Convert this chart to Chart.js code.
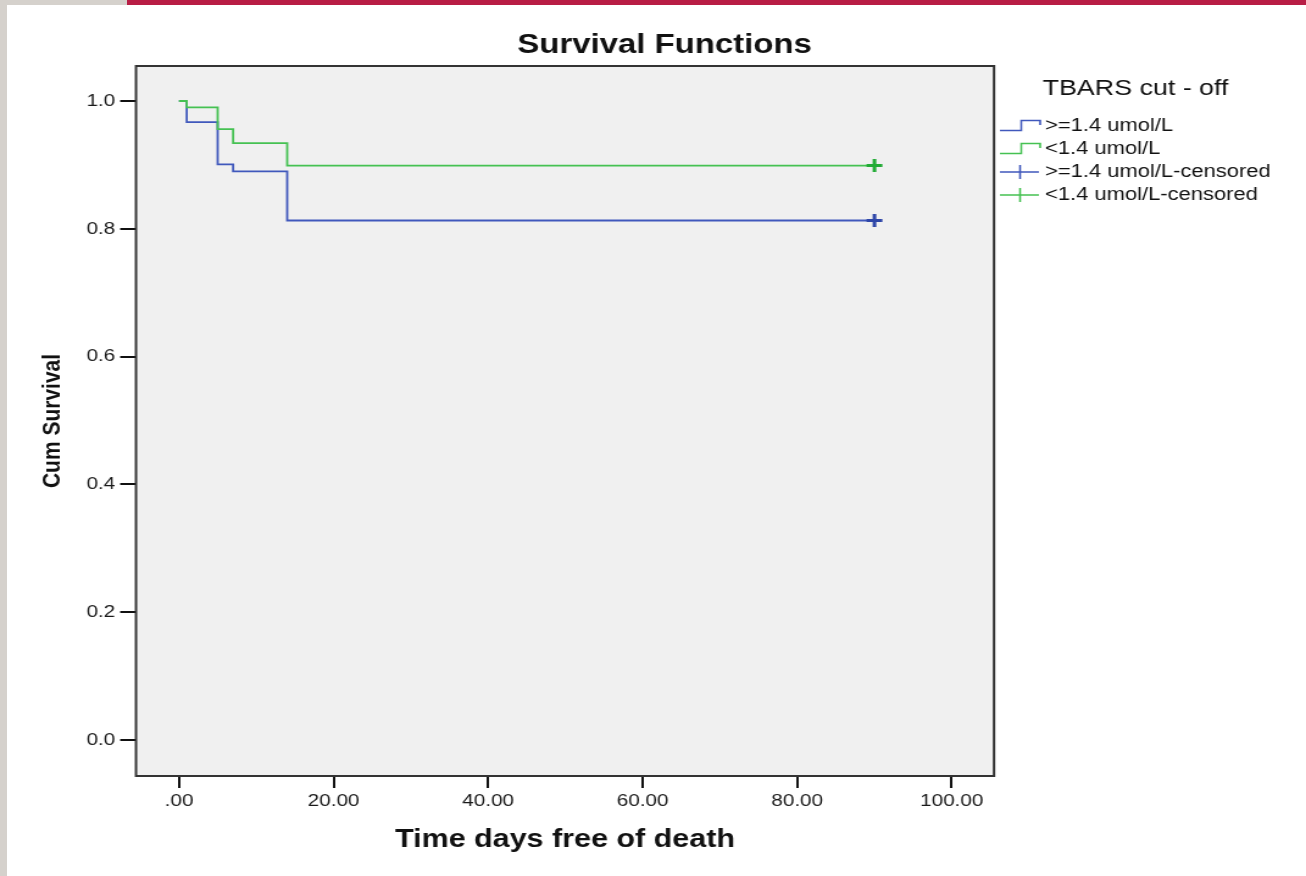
<!DOCTYPE html>
<html>
<head>
<meta charset="utf-8">
<title>Survival Functions</title>
<script src="https://cdn.jsdelivr.net/npm/chart.js@4.4.1/dist/chart.umd.min.js"></script>
<style>
  html, body { margin: 0; padding: 0; background: #fff; overflow: hidden; }
  body { width: 1306px; height: 876px; position: relative; }
  /* the source picture is stretched sideways, so the chart is drawn narrow and widened */
  #wrap { position: absolute; left: 0; top: 0; width: 1071px; height: 876px;
          transform: scaleX(1.21942); transform-origin: 0 0; }
  .strip { position: absolute; z-index: 2; }
</style>
</head>
<body>
<div class="strip" style="left:0;top:0;width:7px;height:876px;background:#d5d1cc;"></div>
<div class="strip" style="left:0;top:0;width:127px;height:5px;background:#d5d1cc;"></div>
<div class="strip" style="left:127px;top:0;width:1179px;height:5px;background:#b81d45;"></div>
<div id="wrap"><canvas id="survCanvas" width="1071" height="876"></canvas></div>
<script>
// Kaplan-Meier curves
const highTime = [0, 1, 5, 7, 14, 90];
const highSurv = [1.0, 0.967, 0.901, 0.890, 0.813, 0.813];
const lowTime = [0, 1, 5, 7, 14, 90];
const lowSurv = [1.0, 0.990, 0.956, 0.934, 0.899, 0.899];
const censorTime = [90];
const highCensored = [0.813];
const lowCensored = [0.899];

const xTicks = [0, 20, 40, 60, 80, 100];
const yTicks = [0.0, 0.2, 0.4, 0.6, 0.8, 1.0];

const groupLabels = ['>=1.4 umol/L', '<1.4 umol/L'];
const legendTitle = 'TBARS cut - off';
const chartTitle = 'Survival Functions';

const lineColors = ['#4058bc', '#45c152'];
const markColors = ['#2e46a8', '#22ab35'];

const FONT = "'Liberation Sans', Arial, sans-serif";
Chart.defaults.font.family = FONT;
Chart.defaults.color = '#222';

const pts = (xs, ys) => xs.map((x, i) => ({ x, y: ys[i] }));

const frame = {
  id: 'frame',
  beforeDraw(chart) {
    const { ctx, chartArea: a } = chart;
    ctx.save();
    ctx.fillStyle = '#f0f0f0';
    ctx.fillRect(a.left, a.top, a.right - a.left, a.bottom - a.top);
    ctx.restore();
  },
  beforeDatasetsDraw(chart) {
    const { ctx, chartArea: a } = chart;
    ctx.save();
    ctx.strokeStyle = '#333';
    ctx.lineWidth = 2;
    ctx.strokeRect(a.left, a.top, a.right - a.left, a.bottom - a.top);
    ctx.restore();
  },
  afterDraw(chart) {
    const { ctx } = chart;
    ctx.save();
    // title
    ctx.fillStyle = '#111';
    ctx.font = `bold 27px ${FONT}`;
    ctx.textAlign = 'center';
    ctx.textBaseline = 'alphabetic';
    ctx.fillText(chartTitle, 545, 53);

    // legend
    ctx.textAlign = 'left';
    ctx.textBaseline = 'middle';
    ctx.font = `22px ${FONT}`;
    ctx.fillText(legendTitle, 855, 89);

    ctx.font = `18px ${FONT}`;
    const x0 = 820, xm = 837.5, x1 = 853, tx = 857;
    const rows = [
      { label: groupLabels[0], color: lineColors[0], kind: 'step' },
      { label: groupLabels[1], color: lineColors[1], kind: 'step' },
      { label: groupLabels[0] + '-censored', color: lineColors[0], kind: 'cross' },
      { label: groupLabels[1] + '-censored', color: lineColors[1], kind: 'cross' },
    ];
    rows.forEach((r, i) => {
      const cy = 126 + i * 23;
      ctx.strokeStyle = r.color;
      ctx.lineWidth = 1.6;
      ctx.beginPath();
      if (r.kind === 'step') {
        ctx.moveTo(x0, cy + 4.5);
        ctx.lineTo(xm, cy + 4.5);
        ctx.lineTo(xm, cy - 5.5);
        ctx.lineTo(x1, cy - 5.5);
        ctx.lineTo(x1, cy - 1);
      } else {
        ctx.moveTo(x0, cy);
        ctx.lineTo(x1 - 1, cy);
        ctx.moveTo(xm - 1, cy - 7);
        ctx.lineTo(xm - 1, cy + 7);
      }
      ctx.stroke();
      ctx.fillStyle = '#111';
      ctx.fillText(r.label, tx, cy);
    });
    ctx.restore();
  }
};

new Chart(document.getElementById('survCanvas'), {
  type: 'scatter',
  data: {
    datasets: [
      {
        label: groupLabels[0],
        type: 'line',
        data: pts(highTime, highSurv),
        stepped: 'before',
        borderColor: lineColors[0],
        borderWidth: 1.8,
        pointRadius: 0,
        fill: false,
        order: 2,
      },
      {
        label: groupLabels[1],
        type: 'line',
        data: pts(lowTime, lowSurv),
        stepped: 'before',
        borderColor: lineColors[1],
        borderWidth: 1.8,
        pointRadius: 0,
        fill: false,
        order: 1,
      },
      {
        label: groupLabels[0] + '-censored',
        data: pts(censorTime, highCensored),
        pointStyle: 'cross',
        pointRadius: 6.5,
        borderColor: markColors[0],
        borderWidth: 3,
        order: 0,
      },
      {
        label: groupLabels[1] + '-censored',
        data: pts(censorTime, lowCensored),
        pointStyle: 'cross',
        pointRadius: 6.5,
        borderColor: markColors[1],
        borderWidth: 3,
        order: 0,
      },
    ]
  },
  options: {
    responsive: false,
    animation: false,
    events: [],
    layout: { padding: { left: 0, right: 255.85, top: 66, bottom: 0 } },
    plugins: {
      legend: { display: false },
      title: { display: false },
      tooltip: { enabled: false },
    },
    scales: {
      x: {
        type: 'linear',
        min: -5.564,
        max: 105.47,
        afterBuildTicks: s => { s.ticks = xTicks.map(v => ({ value: v })); },
        afterFit: s => { s.height = 100; },
        border: { display: false },
        grid: { drawOnChartArea: false, drawTicks: true, tickLength: 12, color: '#111', lineWidth: 2 },
        ticks: {
          padding: 3,
          color: '#1a1a1a',
          font: { size: 17 },
          maxRotation: 0,
          callback: v => v === 0 ? '.00' : v.toFixed(2),
        },
        title: {
          display: true,
          text: 'Time days free of death',
          color: '#111',
          font: { size: 25, weight: 'bold' },
          padding: { top: 0, bottom: 21 },
        },
      },
      y: {
        type: 'linear',
        min: -0.0563,
        max: 1.0548,
        afterBuildTicks: s => { s.ticks = yTicks.map(v => ({ value: v })); },
        afterFit: s => { s.width = 111.53; },
        border: { display: false },
        grid: { drawOnChartArea: false, drawTicks: true, tickLength: 13, color: '#111', lineWidth: 2 },
        ticks: {
          padding: 4,
          color: '#1a1a1a',
          font: { size: 17 },
          callback: v => v.toFixed(1),
        },
        title: {
          display: true,
          text: 'Cum Survival',
          color: '#111',
          font: { size: 21, weight: 'bold' },
          padding: { top: 30.4, bottom: 0 },
        },
      }
    }
  },
  plugins: [frame]
});
</script>
</body>
</html>
